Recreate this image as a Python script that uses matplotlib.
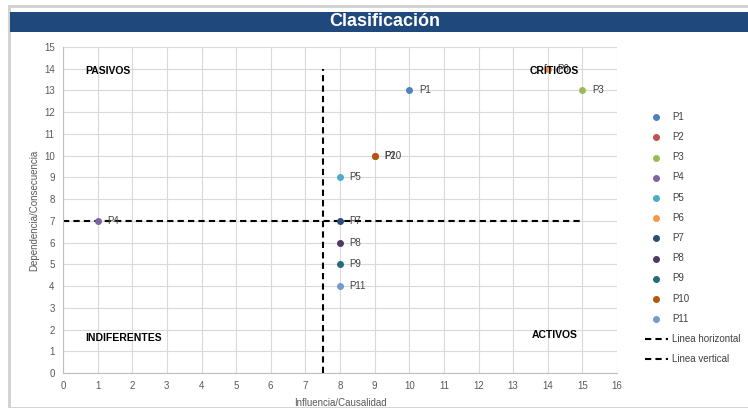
import matplotlib.pyplot as plt
from matplotlib.patches import Rectangle

plt.rcParams['font.family'] = ['Liberation Sans', 'DejaVu Sans']

names = ['P1', 'P2', 'P3', 'P4', 'P5', 'P6', 'P7', 'P8', 'P9', 'P10', 'P11']
influencia = [10, 9, 15, 1, 8, 14, 8, 8, 8, 9, 8]
dependencia = [13, 10, 13, 7, 9, 14, 7, 6, 5, 10, 4]
colores = ['#4F81BD', '#C0504D', '#9BBB59', '#8064A2', '#4BACC6', '#F79646',
           '#2C4D75', '#4D3B62', '#276A7C', '#B65708', '#729ACA']

linea_h_x = [0, 15]
linea_h_y = [7, 7]
linea_v_x = [7.5, 7.5]
linea_v_y = [0, 14]

cuadrantes = ['PASIVOS', 'CRÍTICOS', 'INDIFERENTES', 'ACTIVOS']
cuad_x = [1.3, 14.2, 1.75, 14.2]
cuad_y = [13.9, 13.9, 1.6, 1.75]

fig = plt.figure(figsize=(7.48, 4.08), dpi=100)

# marco y barra de titulo
fig.patches.append(Rectangle((9 / 748, 0), 1, 1 - 6 / 408, transform=fig.transFigure,
                             facecolor='white', edgecolor='#D0D0D0', linewidth=2, zorder=-1))
fig.patches.append(Rectangle((10 / 748, 1 - 32 / 408), 1, 20 / 408, transform=fig.transFigure,
                             facecolor='#1F497D', edgecolor='none', zorder=1))
fig.text(385 / 748, 1 - 22 / 408, 'Clasificación', color='white', fontsize=13,
         fontweight='bold', ha='center', va='center')

ax = fig.add_axes([63 / 748, 35 / 408, 554 / 748, 326 / 408])

for i in range(len(names)):
    ax.scatter(influencia[i], dependencia[i], s=16, color=colores[i], label=names[i], zorder=3)
    ax.text(influencia[i] + 0.28, dependencia[i], names[i], fontsize=7, color='#404040',
            va='center', ha='left', zorder=4)

ax.plot(linea_h_x, linea_h_y, color='black', linestyle=(0, (3, 2)), linewidth=1.5,
        label='Linea horizontal', zorder=2)
ax.plot(linea_v_x, linea_v_y, color='black', linestyle=(0, (3, 2)), linewidth=1.5,
        label='Linea vertical', zorder=2)

for t, x, y in zip(cuadrantes, cuad_x, cuad_y):
    ax.text(x, y, t, fontsize=7.5, fontweight='bold', ha='center', va='center', zorder=5)

ax.set_xlim(0, 16)
ax.set_ylim(0, 15)
ax.set_xticks(range(0, 17))
ax.set_yticks(range(0, 16))
ax.grid(True, color='#D9D9D9', linewidth=0.8)
ax.set_axisbelow(True)
ax.tick_params(labelsize=7, colors='#595959', length=0, pad=6)
for s in ['top', 'right']:
    ax.spines[s].set_visible(False)
for s in ['left', 'bottom']:
    ax.spines[s].set_color('#BFBFBF')
ax.set_xlabel('Influencia/Causalidad', fontsize=7, color='#595959', labelpad=5)
ax.set_ylabel('Dependencia/Consecuencia', fontsize=7, color='#595959', labelpad=3)

handles, labels = ax.get_legend_handles_labels()
fig.legend(handles, labels, loc='upper left', bbox_to_anchor=(636 / 748, 1 - 103 / 408),
           frameon=False, fontsize=7, labelspacing=1.05, handlelength=2.4,
           handletextpad=0.4, labelcolor='#404040')

fig.savefig('out.png', dpi=100)
